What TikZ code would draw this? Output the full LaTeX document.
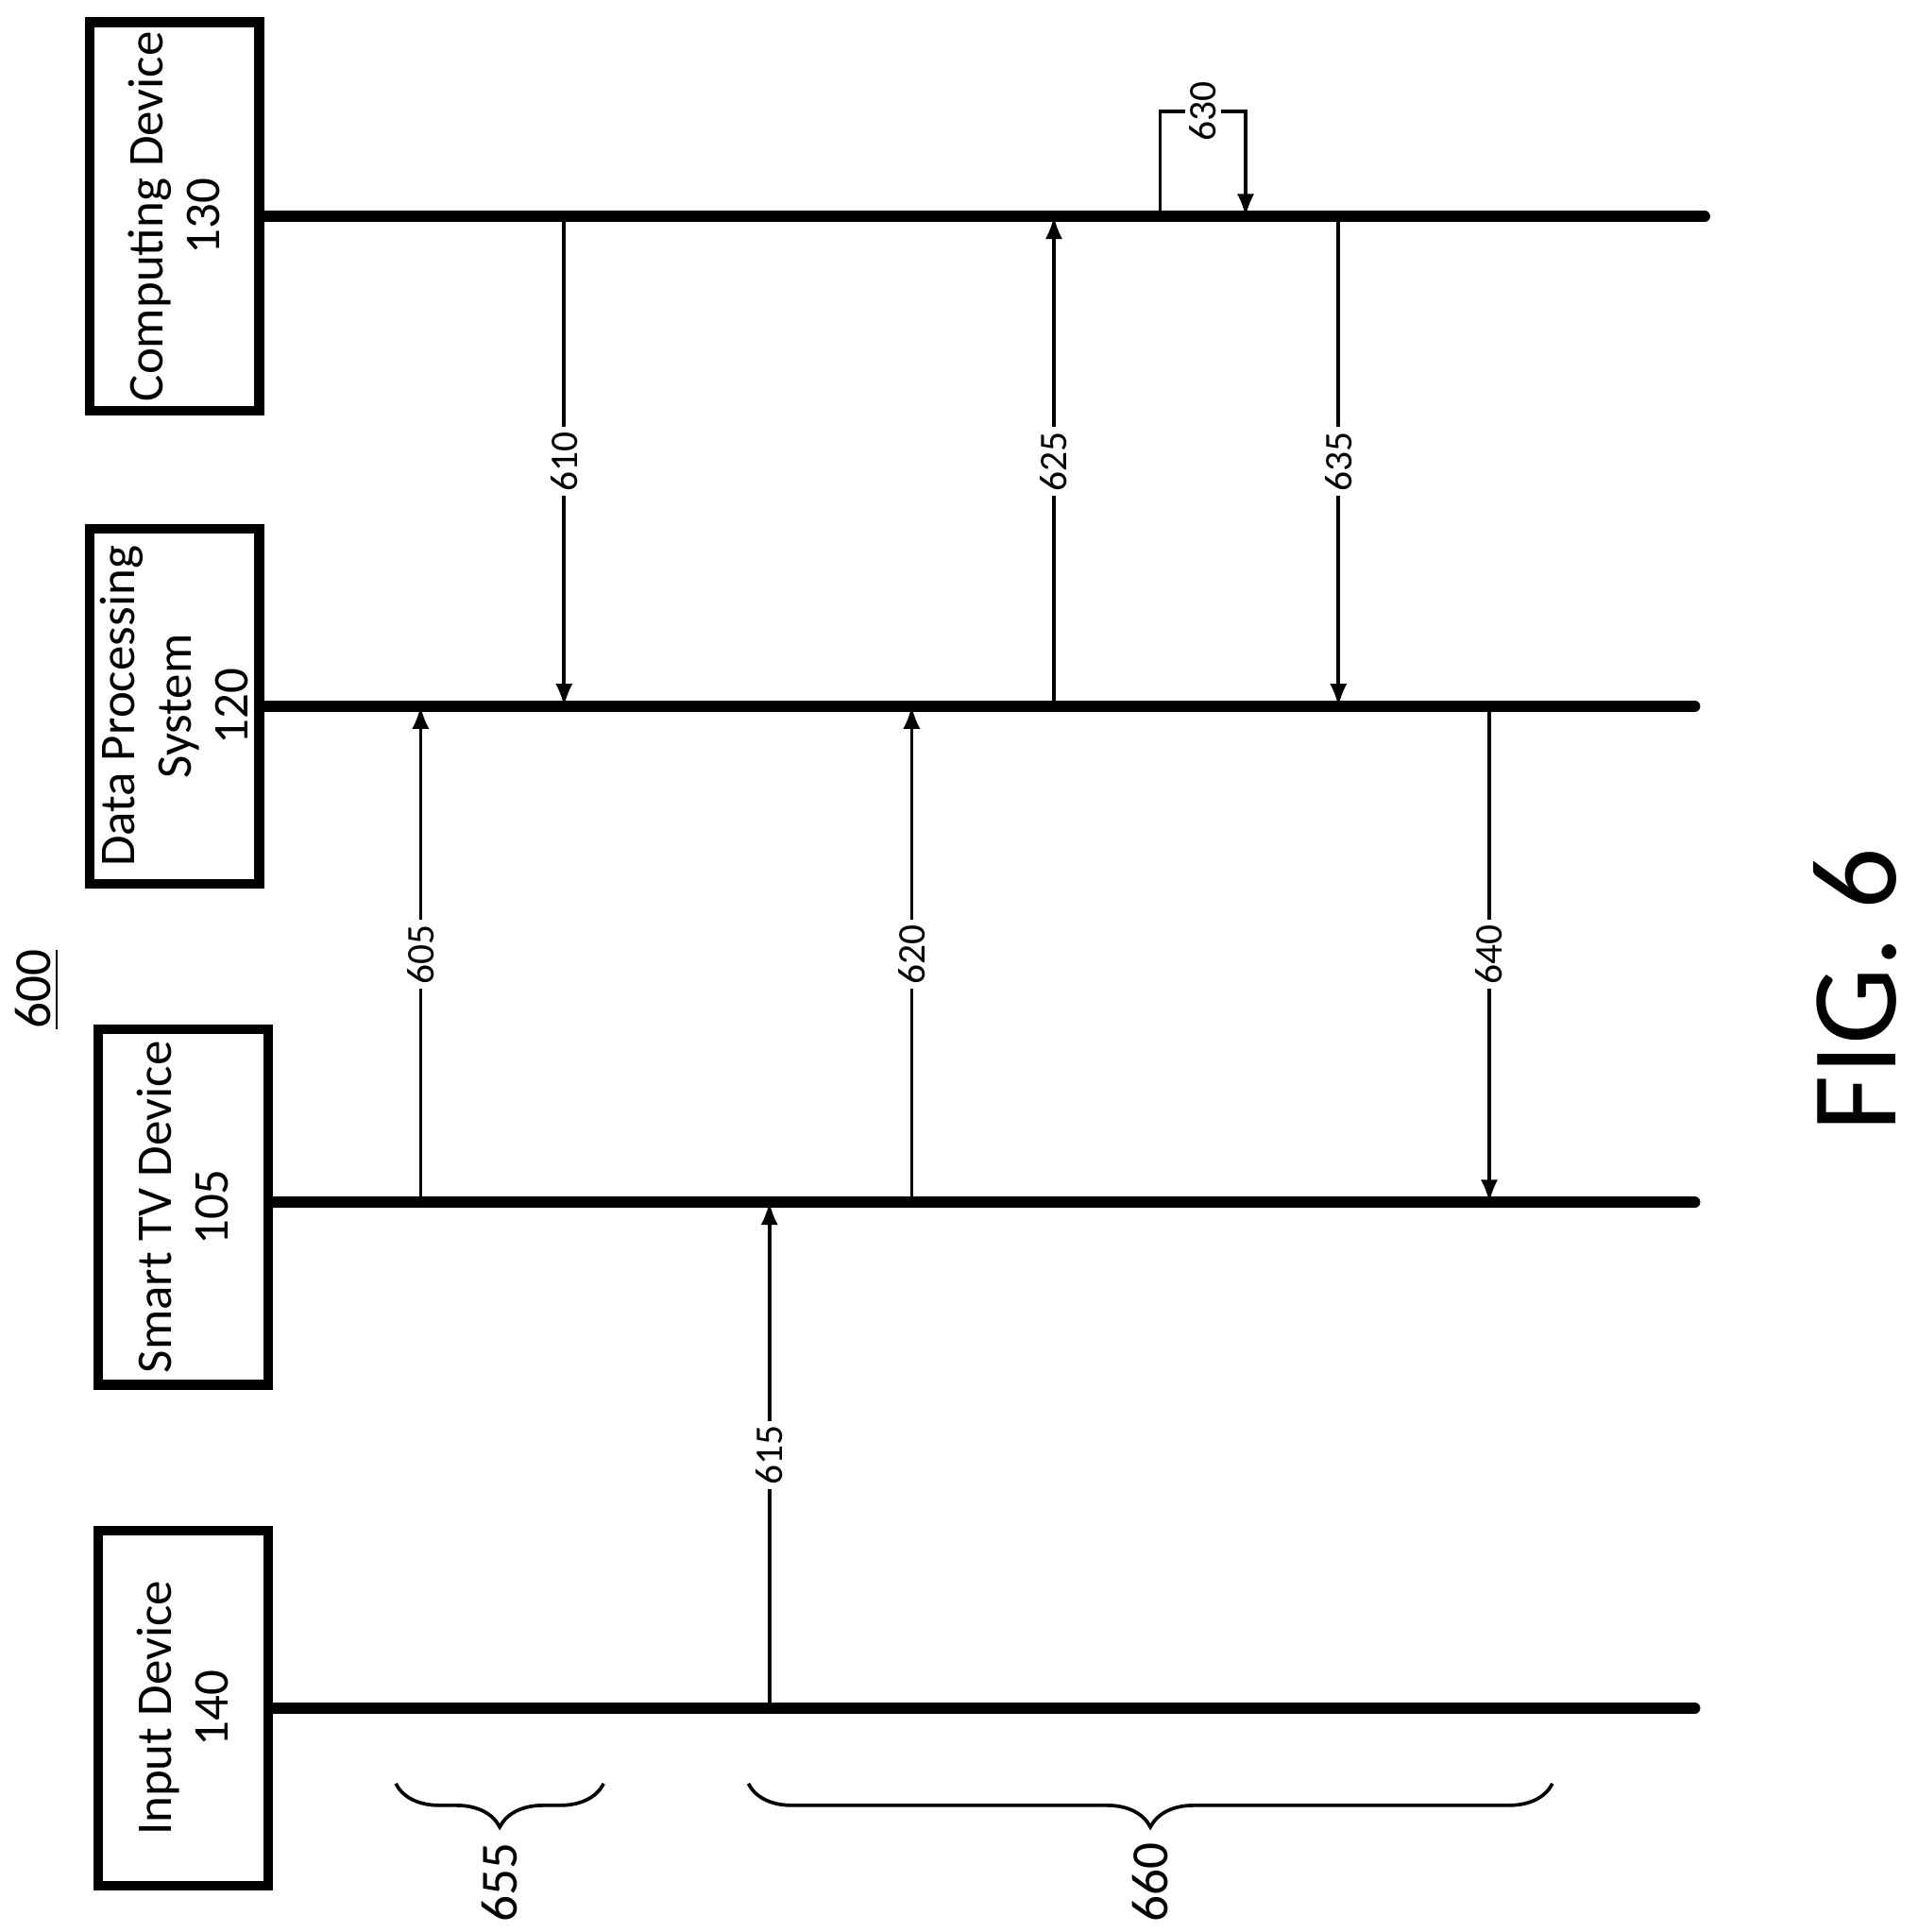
\documentclass[tikz,border=0pt]{standalone}
\usepackage{fontspec}
\setmainfont{Carlito}
\usetikzlibrary{decorations.pathreplacing}

\begin{document}
\begin{tikzpicture}[x=0.01cm, y=-0.01cm,
    box/.style={draw, line width=2.2pt, minimum width=2.87cm, minimum height=1.37cm, inner sep=2pt, rotate=90, align=center, font=\fontsize{11.5}{13}\selectfont},
    life/.style={line width=2.6pt, line cap=round},
    msg/.style={thick, -latex},
    num/.style={fill=white, inner sep=1pt, rotate=90, font=\small}]
    \useasboundingbox (0,0) rectangle (1550,1562);

    % entities
    \node[box, minimum width=3.14cm] (cd) at (141,175) {Computing Device\\130};
    \node[box] (dps) at (141,571) {Data Processing\\System\\120};
    \node[box] (tv) at (148,976) {Smart TV Device\\105};
    \node[box] (in) at (148,1381) {Input Device\\140};

    % lifelines
    \coordinate (cdE) at (1378,175);
    \coordinate (dpsE) at (1370,571);
    \coordinate (tvE) at (1370,972);
    \coordinate (inE) at (1370,1381);
    \draw[life] (cd.south) -- (cdE);
    \draw[life] (dps.south) -- (dpsE);
    \draw[life] (tv.south |- 0,972) -- (tvE);
    \draw[life] (in.south) -- (inE);

    % messages
    \draw[msg] (340,972) -- node[num]{605} (340,571);
    \draw[msg] (456,175) -- node[num]{610} (456,571);
    \draw[msg] (622,1381) -- node[num]{615} (622,972);
    \draw[msg] (737,972) -- node[num]{620} (737,571);
    \draw[msg] (852,571) -- node[num]{625} (852,175);
    \draw[msg] (938,175) -- (938,90) -- node[num]{630} (1007,90) -- (1007,175);
    \draw[msg] (1082,175) -- node[num]{635} (1082,571);
    \draw[msg] (1204,571) -- node[num]{640} (1204,972);

    % braces
    \draw[thick, decorate, decoration={brace, amplitude=10pt, mirror}] (320,1442) -- (488,1442);
    \node[rotate=90, font=\large] (b655) at (404,1522) {655};
    \draw[thick, decorate, decoration={brace, amplitude=10pt, mirror}] (605,1442) -- (1255,1442);
    \node[rotate=90, font=\large] (b660) at (930,1522) {660};

    \node[rotate=90, font=\large] (fig) at (30,800) {\underline{600}};
    \node[rotate=90, font=\fontsize{28}{34}\selectfont] (cap) at (1500,800) {FIG. 6};
\end{tikzpicture}
\end{document}
